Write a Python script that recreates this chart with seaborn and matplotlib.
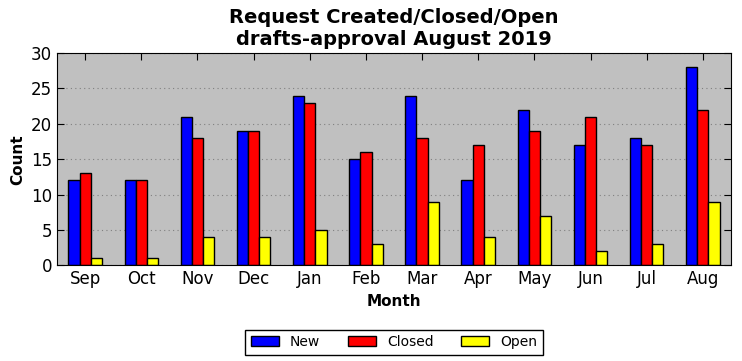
import seaborn as sns
import matplotlib.pyplot as plt
import pandas as pd

months = ["Sep", "Oct", "Nov", "Dec", "Jan", "Feb", "Mar", "Apr", "May", "Jun", "Jul", "Aug"]
new = [12, 12, 21, 19, 24, 15, 24, 12, 22, 17, 18, 28]
closed = [13, 12, 18, 19, 23, 16, 18, 17, 19, 21, 17, 22]
open_ = [1, 1, 4, 4, 5, 3, 9, 4, 7, 2, 3, 9]

df = pd.DataFrame({"Month": months, "New": new, "Closed": closed, "Open": open_})
long_df = df.melt(id_vars="Month", var_name="Status", value_name="Count")

sns.set_style("ticks", {"text.color": "black", "axes.labelcolor": "black",
                        "xtick.color": "black", "ytick.color": "black"})
plt.rcParams["font.family"] = ["DejaVu Sans"]

fig, ax = plt.subplots(figsize=(7.42, 3.61), dpi=100)
sns.barplot(data=long_df, x="Month", y="Count", hue="Status",
            palette={"New": "blue", "Closed": "red", "Open": "yellow"},
            edgecolor="black", linewidth=1, width=0.6, saturation=1, ax=ax)

ax.set_facecolor("#c0c0c0")
ax.set_ylim(0, 30)
ax.set_xlim(-0.5, 11.5)
ax.yaxis.grid(True, linestyle=(0, (1, 3)), color="#808080", linewidth=0.8)
ax.set_axisbelow(True)
for s in ax.spines.values():
    s.set_visible(True)
    s.set_color("black")
ax.tick_params(direction="in", top=True, right=True, labelsize=12, length=5)
ax.set_title("Request Created/Closed/Open\ndrafts-approval August 2019",
             fontsize=14, fontweight="bold", color="black")
ax.set_xlabel("Month", fontsize=11, fontweight="bold")
ax.set_ylabel("Count", fontsize=11, fontweight="bold")

ax.legend(loc="upper center", bbox_to_anchor=(0.5, -0.27), ncol=3, fontsize=10,
          frameon=True, fancybox=False, edgecolor="black", framealpha=1,
          handlelength=2.0, columnspacing=2.0)

plt.subplots_adjust(left=0.077, right=0.985, top=0.853, bottom=0.265)
plt.savefig("out.png", dpi=100)
